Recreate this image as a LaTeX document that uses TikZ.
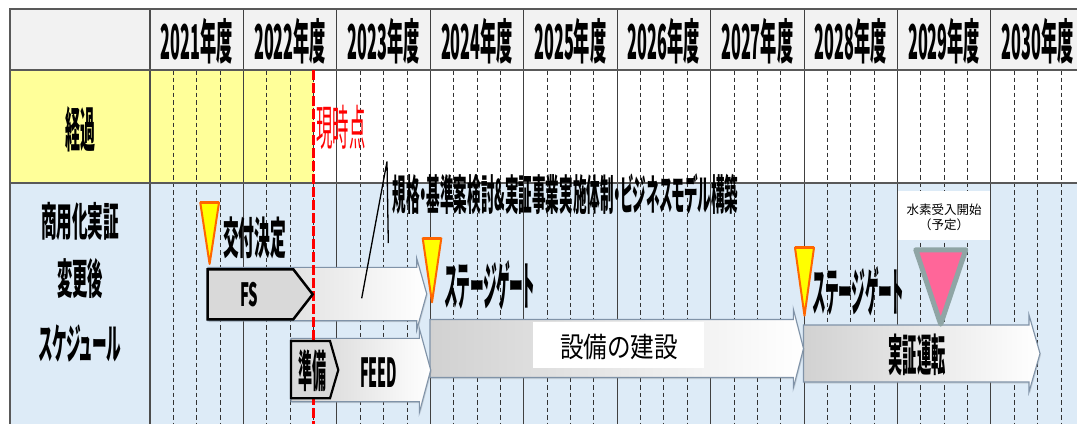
\documentclass[tikz,border=0pt]{standalone}
\usepackage{fontspec}
\usetikzlibrary{shadows}
\newfontfamily\jp{Noto Sans CJK JP}
\newfontfamily\jpp{Noto Sans CJK JP}[RawFeature=+palt]
\newcommand\jt[3]{\resizebox{#2pt}{\height}{\fontsize{#1}{#1}\selectfont #3}}
\definecolor{hdr}{HTML}{F2F2F2}
\definecolor{ylw}{HTML}{FFFF99}
\definecolor{blu}{HTML}{DDEBF7}
\definecolor{gridc}{HTML}{404040}
\definecolor{borderc}{HTML}{595959}
\definecolor{arrline}{HTML}{8093A8}
\definecolor{sgfill}{HTML}{FFFF00}
\definecolor{sgline}{HTML}{FF6600}
\definecolor{pinkf}{HTML}{FF6699}
\definecolor{pinkl}{HTML}{8FA5A5}
\definecolor{boxg}{HTML}{D9D9D9}
\begin{document}
\begin{tikzpicture}[x=1pt,y=-1pt,
  lbl/.style={inner sep=0pt, font=\jp\bfseries},
  lblp/.style={inner sep=0pt, font=\jpp\bfseries},
  lblr/.style={inner sep=0pt, font=\jp},
  yearline/.style={draw=gridc, line width=0.9pt},
  qline/.style={draw=black!80, line width=0.8pt, dash pattern=on 4.5pt off 3pt},
  hline/.style={draw=borderc, line width=2pt},
  bigarrow/.style={draw=arrline, line width=1.1pt, left color=black!18, right color=white,
    drop shadow={shadow xshift=1pt, shadow yshift=-1.5pt, opacity=.25}},
  pent/.style={draw=black, line width=2.5pt, fill=boxg, line join=miter},
  sg/.style={fill=sgfill, draw=sgline, line width=2pt, line join=round},
  pinktri/.style={fill=pinkf, draw=pinkl, line width=5pt, line join=round},
  now/.style={draw=red, line width=2.2pt, dash pattern=on 10pt off 3pt},
  callout/.style={draw=black, line width=1.3pt}
]
\useasboundingbox (0,0) rectangle (1077,424);
\clip (0,0) rectangle (1077,424);
% backgrounds
\fill[white] (0,0) rectangle (1077,424);
\fill[hdr] (10,9) rectangle (1077,70);
\fill[ylw] (10,70) rectangle (313.5,183);
\fill[white] (313.5,70) rectangle (1077,183);
\fill[blu] (10,183) rectangle (1077,424);
% grid
\foreach \k in {0,...,9}{
  \pgfmathsetmacro\xa{150+93.43*\k}
  \foreach \q in {1,2,3}{
    \pgfmathsetmacro\xq{\xa+23.3575*\q}
    \draw[qline] (\xq,70) -- (\xq,424);
  }
  \draw[yearline] (\xa,9) -- (\xa,424);
}
\draw[draw=gray!60!black, line width=1.6pt] (150,9) -- (150,424);
\draw[hline] (10,9) -- (1077,9);
\draw[hline] (10,70) -- (1077,70);
\draw[hline] (10,183) -- (1077,183);
\draw[hline] (10,8) -- (10,424);
% header labels
\foreach \yy [count=\i from 0] in {2021,...,2030}{
  \pgfmathsetmacro\xc{196.715+93.43*\i}
  \node[lbl] (y\yy) at (\xc,41.5) {\jt{48}{72}{\yy 年度}};
}
\node[lbl] (keika) at (80,129) {\jt{48}{30}{経過}};
\node[lbl] (row1) at (80,221.5) {\jt{40}{78}{商用化実証}};
\node[lbl] (row2) at (80,278.5) {\jt{42}{46}{変更後}};
\node[lblp] (row3) at (80,343) {\jt{42}{82}{スケジュール}};
% big arrows
\path[bigarrow] (803.5,325) -- (1029,325) -- (1029,315) -- (1040,353.5) -- (1029,392) -- (1029,382) -- (803.5,382) -- cycle;
\path[bigarrow] (430,319.5) -- (793.3,319.5) -- (793.3,309) -- (803.5,348.5) -- (793.3,388) -- (793.3,377.5) -- (430,377.5) -- cycle;
\path[bigarrow] (208,267.3) -- (416.7,267.3) -- (416.7,258.3) -- (426.7,293.8) -- (416.7,330) -- (416.7,320.7) -- (208,320.7) -- cycle;
\path[bigarrow] (291,338.3) -- (419.3,338.3) -- (419.3,328.3) -- (430.7,370) -- (419.3,412.7) -- (419.3,401.7) -- (291,401.7) -- cycle;
% current time line
\coordinate (nowtop) at (313.5,70);
\coordinate (nowbot) at (313.5,424);
\draw[now] (nowtop) -- (nowbot);
\node[lblr, text=red] (genjiten) at (341,127) {\jt{48}{49}{現時点}};
% pentagons
\path[pent] (207.7,269.3) -- (293.3,269.3) -- (312.7,294.3) -- (293.3,319.3) -- (207.7,319.3) -- cycle;
\node[lbl] (fs) at (249.2,295) {\jt{32}{18}{FS}};
\path[pent, line width=2.2pt] (291,341) -- (330,341) -- (338.3,370) -- (330,398.3) -- (291,398.3) -- cycle;
\node[lbl] (junbi) at (312.3,370.5) {\jt{44}{28}{準備}};
\node[lbl] (feed) at (378.5,372.5) {\jt{40}{37}{FEED}};
% callout
\node[lblp, anchor=west] (kikaku) at (392.7,194) {\jt{42}{345.6}{規格・基準案検討\&実証事業実施体制・ビジネスモデル構築}};
\coordinate (cA) at (361.7,298.3);
\coordinate (cB) at (387,161.5);
\coordinate (cC) at (388.3,243);
\draw[callout] (cA) -- (cB) -- (cC);
% construction label
\node[fill=white, inner sep=0pt, minimum width=170.5pt, minimum height=46pt] (kbox) at (618.3,345) {};
\node[lblr] (kensetsu) at (619,347) {\jt{28}{118}{設備の建設}};
\node[lbl] (jissho) at (917,354.5) {\jt{44}{57}{実証運転}};
% milestones
\path[sg] (200.3,202.7) -- (219,202.7) -- (209.6,264) -- cycle;
\draw[sgline, line width=3pt] (200.3,202.7) -- (219,202.7);
\node[lbl] (kofu) at (254.7,238) {\jt{44}{63}{交付決定}};
\path[sg] (422.7,238.3) -- (441.3,238.3) -- (432,302.3) -- cycle;
\draw[sgline, line width=3pt] (422.7,238.3) -- (441.3,238.3);
\node[lblp] (sg1) at (489.6,285) {\jt{52}{90}{ステージゲート}};
\path[sg] (795,247.7) -- (814,247.7) -- (804.5,315.7) -- cycle;
\draw[sgline, line width=3pt] (795,247.7) -- (814,247.7);
\node[lblp] (sg2) at (858.3,291.7) {\jt{52}{90}{ステージゲート}};
% hydrogen start
\node[fill=white, inner sep=0pt, minimum width=91.7pt, minimum height=49pt] (h2box) at (944.2,215.5) {};
\node[lblr, align=center, font=\jp\fontsize{12.5}{15.5}\selectfont] (h2) at (944.2,217.3) {水素受入開始\\（予定）};
\path[pinktri] (915.8,249.8) -- (965.8,249.8) -- (940.7,324.2) -- cycle;
\end{tikzpicture}
\end{document}
